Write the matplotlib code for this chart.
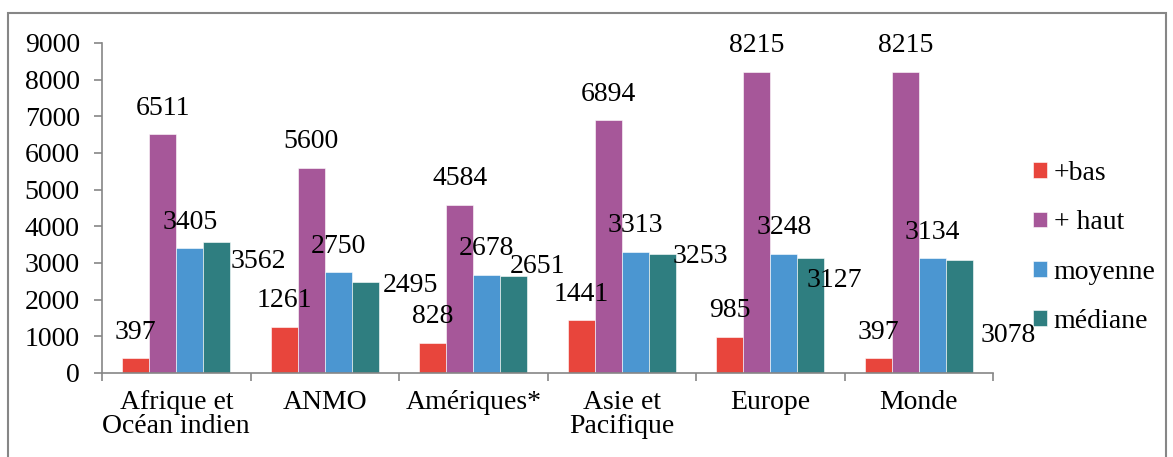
import matplotlib.pyplot as plt
import matplotlib.patches as mpatches
import numpy as np

plt.rcParams['font.family'] = ['Liberation Serif', 'DejaVu Serif']

categories = ["Afrique et\nOcéan indien", "ANMO", "Amériques*", "Asie et\nPacifique", "Europe", "Monde"]
series_names = ["+bas", "+ haut", "moyenne", "médiane"]
bas = [397, 1261, 828, 1441, 985, 397]
haut = [6511, 5600, 4584, 6894, 8215, 8215]
moyenne = [3405, 2750, 2678, 3313, 3248, 3134]
mediane = [3562, 2495, 2651, 3253, 3127, 3078]

colors = ["#E8453C", "#A65799", "#4B96D1", "#2F7E80"]

# label offsets in pixels from bar top (dx, dy); excel labels were dragged around
default_off = (0, 26)
mediane_off = [(42, -19), (45, -4), (24, 9), (38, -3), (24, -22), (49, -75)]
offsets = [[default_off] * 6, [default_off] * 6, [default_off] * 6, mediane_off]

FS = 20
fig = plt.figure(figsize=(11.73, 4.57), dpi=100)
ax = fig.add_axes([102 / 1173, 1 - 373 / 457, (993 - 102) / 1173, (373 - 43) / 457])

x = np.arange(len(categories))
w = 27 / 148.5
data = [bas, haut, moyenne, mediane]
for j, vals in enumerate(data):
    pos = x + (j - 1.5) * w
    bars = ax.bar(pos, vals, width=w, color=colors[j], label=series_names[j],
                  edgecolor="white", linewidth=0.4)
    for k, b in enumerate(bars):
        dx, dy = offsets[j][k]
        ax.annotate(str(vals[k]), (b.get_x() + b.get_width() / 2, b.get_height()),
                    xytext=(dx, dy), textcoords="offset pixels",
                    ha="center", va="center", fontsize=FS)

ax.set_xlim(-0.5, len(categories) - 0.5)
ax.set_ylim(0, 9000)
ax.set_yticks(range(0, 9001, 1000))
ax.set_xticks(np.arange(-0.5, len(categories), 1.0))
ax.set_xticklabels([])
ax.set_xticks(x, minor=True)
ax.set_xticklabels(categories, minor=True, fontsize=FS, linespacing=0.95, va="top")
ax.tick_params(axis="x", which="minor", length=0, pad=12)
ax.tick_params(axis="x", which="major", length=6, color="#868686", width=1.2)
ax.tick_params(axis="y", length=6, color="#868686", width=1.2, pad=10, labelsize=FS)

for s in ["top", "right"]:
    ax.spines[s].set_visible(False)
for s in ["left", "bottom"]:
    ax.spines[s].set_color("#868686")
    ax.spines[s].set_linewidth(1.2)

ax.legend(loc="center left", bbox_to_anchor=(0.995, 0.38), frameon=False, fontsize=FS,
          handlelength=0.5, handleheight=0.5, handletextpad=0.25, labelspacing=0.88,
          borderaxespad=1.2)

fig.patches.append(mpatches.Rectangle((8 / 1173, -0.1), 1158 / 1173, 1.1 - 13 / 457,
                                      transform=fig.transFigure, fill=False,
                                      edgecolor="#868686", linewidth=1.5))

fig.savefig("out.png", dpi=100)
